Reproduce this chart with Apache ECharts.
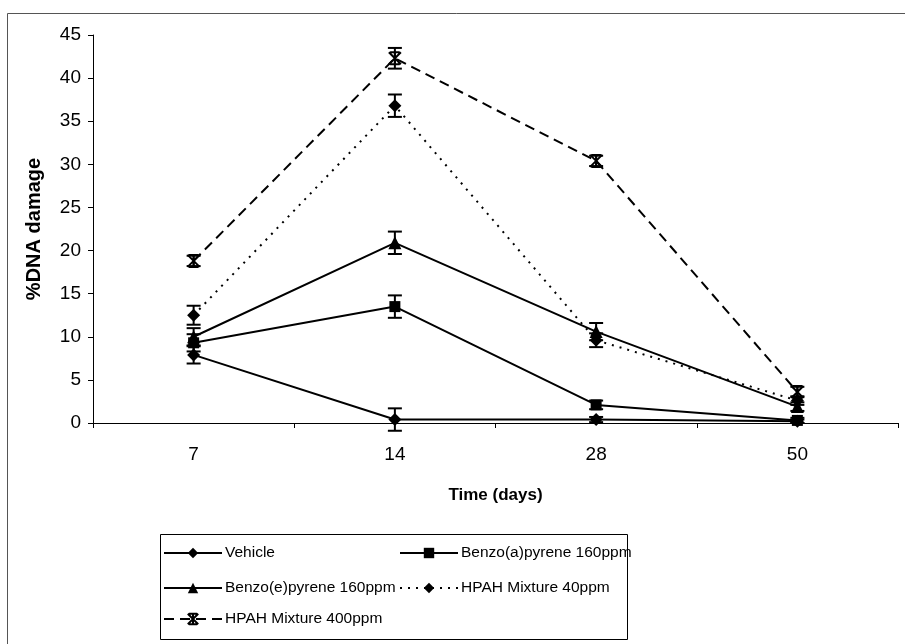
<!DOCTYPE html>
<html>
<head>
<meta charset="utf-8">
<script src="https://cdn.jsdelivr.net/npm/echarts@6/dist/echarts.min.js"></script>
<style>html,body{margin:0;padding:0;background:#fff}#c{width:905px;height:644px}</style>
</head>
<body>
<div id="c"></div>
<script>
var categories = ['7', '14', '28', '50'];
var seriesNames = ['Vehicle', 'Benzo(a)pyrene 160ppm', 'Benzo(e)pyrene 160ppm', 'HPAH Mixture 40ppm', 'HPAH Mixture 400ppm'];
var vehicle = [7.9, 0.4, 0.4, 0.2];
var vehicleErr = [1.0, 1.3, 0.3, 0.2];
var bap = [9.3, 13.5, 2.1, 0.3];
var bapErr = [1.0, 1.3, 0.5, 0.3];
var bep = [10.0, 20.9, 10.6, 1.9];
var bepErr = [1.0, 1.3, 1.0, 0.5];
var hpah40 = [12.5, 36.8, 9.6, 2.6];
var hpah40Err = [1.1, 1.3, 0.8, 0.5];
var hpah400 = [18.8, 42.3, 30.4, 3.6];
var hpah400Err = [0.6, 1.2, 0.6, 0.6];
var yTicks = [0, 5, 10, 15, 20, 25, 30, 35, 40, 45];

var FONT = '"Liberation Sans", Arial, sans-serif';
var chart = echarts.init(document.getElementById('c'), null, {renderer: 'canvas'});

var starPath = 'path://M0,0L10,10M10,0L0,10M5,0L5,10M1,0L9,0M1,10L9,10';

var valuesList = [vehicle, bap, bep, hpah40, hpah400];
var errList = [vehicleErr, bapErr, bepErr, hpah40Err, hpah400Err];
var symbols = ['diamond', 'rect', 'triangle', 'diamond', starPath];
var symbolSizes = [13, 11, 13, 13, 12];
var lineTypes = ['solid', 'solid', 'solid', [2, 6], [10, 6]];

var series = [];
for (var i = 0; i < 5; i++) {
  var isStar = i === 4;
  series.push({
    name: seriesNames[i],
    type: 'line',
    data: valuesList[i],
    symbol: symbols[i],
    symbolSize: symbolSizes[i],
    showAllSymbol: true,
    lineStyle: {color: '#000', width: 2, type: lineTypes[i]},
    itemStyle: isStar ? {color: 'rgba(0,0,0,0)', borderColor: '#000', borderWidth: 2} : {color: '#000', borderWidth: 0},
    emphasis: {disabled: true},
    animation: false,
    z: 3
  });
}
// error bars
var errData = [];
for (var s = 0; s < 5; s++) {
  for (var k = 0; k < categories.length; k++) {
    errData.push([k, valuesList[s][k], errList[s][k]]);
  }
}
series.push({
  type: 'custom',
  name: 'err',
  data: errData,
  encode: {x: 0, y: 1},
  animation: false,
  silent: true,
  z: 4,
  renderItem: function (params, api) {
    var x = api.value(0), v = api.value(1), e = api.value(2);
    var top = api.coord([x, v + e]);
    var bot = api.coord([x, v - e]);
    var hw = 7;
    var st = {stroke: '#000', lineWidth: 2};
    return {
      type: 'group',
      children: [
        {type: 'line', shape: {x1: top[0], y1: top[1], x2: bot[0], y2: bot[1]}, style: st},
        {type: 'line', shape: {x1: top[0] - hw, y1: top[1], x2: top[0] + hw, y2: top[1]}, style: st},
        {type: 'line', shape: {x1: bot[0] - hw, y1: bot[1], x2: bot[0] + hw, y2: bot[1]}, style: st}
      ]
    };
  }
});

var legendPos = [[163, 545], [399, 545], [163, 580], [399, 580], [163, 611]];
var legends = [];
for (var j = 0; j < 5; j++) {
  legends.push({
    data: [seriesNames[j]],
    left: legendPos[j][0],
    top: legendPos[j][1],
    itemWidth: 58,
    itemHeight: 13,
    itemGap: 4,
    padding: 0,
    selectedMode: false,
    textStyle: {fontFamily: FONT, fontSize: 15.5, color: '#000', padding: [0, 0, 0, -2]}
  });
}

chart.setOption({
  backgroundColor: '#fff',
  animation: false,
  grid: {left: 93, right: 7, top: 35, bottom: 221, containLabel: false},
  legend: legends,
  xAxis: {
    type: 'category',
    data: categories,
    boundaryGap: true,
    name: 'Time (days)',
    nameLocation: 'middle',
    nameGap: 64,
    nameTextStyle: {fontFamily: FONT, fontSize: 17, fontWeight: 'bold', color: '#000'},
    axisLine: {lineStyle: {color: '#000', width: 1}},
    axisTick: {show: true, length: 5, lineStyle: {color: '#000'}},
    axisLabel: {fontFamily: FONT, fontSize: 19, color: '#000', margin: 22},
    splitLine: {show: false}
  },
  yAxis: {
    type: 'value',
    min: 0,
    max: 45,
    interval: 5,
    name: '%DNA damage',
    nameLocation: 'middle',
    nameGap: 49,
    nameRotate: 90,
    nameTextStyle: {fontFamily: FONT, fontSize: 20, fontWeight: 'bold', color: '#000'},
    axisLine: {show: true, lineStyle: {color: '#000', width: 1}},
    axisTick: {show: true, length: 5, lineStyle: {color: '#000'}},
    axisLabel: {fontFamily: FONT, fontSize: 19, color: '#000', margin: 12,
      formatter: function (v) { return yTicks.indexOf(v) >= 0 ? String(v) : ''; }},
    splitLine: {show: false}
  },
  graphic: [
    {type: 'rect', left: 5, top: 11, shape: {width: 940, height: 631}, style: {fill: 'none', stroke: '#555', lineWidth: 1}, silent: true},
    {type: 'rect', left: 158, top: 532, shape: {width: 467, height: 105}, style: {fill: 'none', stroke: '#000', lineWidth: 1}, silent: true}
  ],
  series: series
});
</script>
</body>
</html>
